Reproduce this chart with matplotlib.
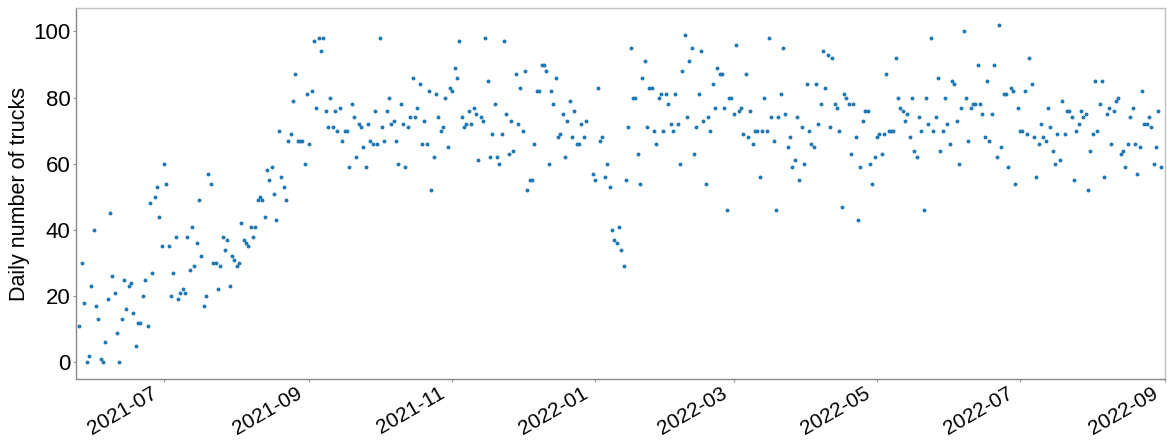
import matplotlib
matplotlib.use('Agg')
import numpy as np
import pandas as pd
import matplotlib.pyplot as plt
import matplotlib.dates as mdates
from matplotlib.transforms import ScaledTranslation

plt.rcParams['font.family'] = ['Liberation Sans', 'DejaVu Sans']

# Daily truck counts starting 2021-05-26 (None = no record that day)
start_date = '2021-05-26'
daily_trucks = [
    11, 30, 18, 0, 2, 23, 40, 17, 13, 1,
    0, 6, 19, 45, 26, 21, 9, 0, 13, 25,
    16, 23, 24, 15, 5, 12, 12, 20, 25, 11,
    48, 27, 50, 53, 44, 35, 60, 54, 35, 20,
    27, 38, 19, 21, 22, 21, 38, 28, 41, 29,
    36, 49, 32, 17, 20, 57, 54, 30, 30, 22,
    29, 38, 34, 37, 23,
    32, 31, 29, 30, 42, 37, 36, 35, 41, 38,
    41, 49, 50, 49, 44, 58, 55, 59, 51, 43,
    70, 56, 53, 49, 67, 69, 79, 87, 67, 67,
    67, 60, 81, 66, 82, 97, 77, 98, 94, 98,
    76, 71, 80, 71, 76, 70, 77, 67, 70, 70,
    59, 78, 74, 62, 72, 71, 65, 59, 72, 67,
    66, 76, 66, 98, 71, 67, 76, 80, 72, 73,
    67, 60, 78, 72, 59, 71, 74, 86, 74, 77,
    84,
    66, 73, 66, 82, 52, 62, 81, 74, 70, 71,
    80, 65, 83, 82, 89, 86, 97, 74, 71, 72,
    76, 72, 77, 75, 61, 74, 73, 98, 85, 62,
    69, 78, 62, 60, 69, 97, 75, 63, 73, 64,
    87, 72, 83, 70, 88, 52, 55, 55, 66, 82,
    82, 90, 90, 88, 60, 82, 78, 86, 68, 69,
    75, 62, 73, 79, 68, 76, 66, 66, 72, 68,
    73,
    None, None,
    57, 55, 83, 67, 68, 56, 60, 53, 40, 37,
    36, 41, 34, 29, 55, 71, 95, 80, 80, 63,
    54, 86, 91, 71, 83, 83, 70, 66, 80, 81,
    70, 81, 78, 72, 70, 81, 72, 60, 88, 99,
    74, 91, 95, 63, 71, 81, 94, 73, 54, 74,
    70, 84, 77, 89, 87, 87, 77, 46, 80, 80,
    75, 96, 76, 77, 69, 87, 68, 76, 66, 70,
    70, 56, 70, 80, 70, 98, 74, 67, 46, 74,
    81, 95, 75, 65, 68, 59, 61, 74,
    55, 71, 60,
    84, 70, 66, 65, 84, 72, 78, 94, 83, 93,
    71, 92, 78, 77, 70, 47, 81, 80, 78, 63,
    78, 68, 43, 59, 73, 76, 76, 60, 54, 62,
    68, 69, 63, 69, 87, 70, 70, 70, 92, 80,
    77, 76, 73, 75, 68, 80, 64, 62, 74, 70,
    46, 80, 72, 98, 70, 74, 86, 64, 70, 80,
    72, 66, 85, 84, 73, 60, 77, 100, 80, 67,
    77, 78, 78,
    90, 78, 75, 68, 85, 67, 75,
    90, 62, 102, 65, 81, 81, 59, 83, 82, 54,
    77, 70, 70, 82, 69, 92, 84, 68, 56, 66,
    72, 68, 67, 77, 71, 64, 60, 69, 61, 79,
    69, 76, 76, 74, 55, 70, 72, 76, 74, 75,
    52, 64, 69, 85, 70, 78, 85, 56, 75, 77,
    66, 76, 79, 80, 63, 64, 59, 66, 74, 77,
    66, 57, 65, 82, 72, 72, 74, 71, 60, 65,
    76, 59,
]
x_range = ('2021-05-24 12:00', '2022-09-01')

df = pd.DataFrame({
    'Date': pd.date_range(start_date, periods=len(daily_trucks), freq='D'),
    'Trucks': pd.array(daily_trucks, dtype='Float64'),
}).dropna()

fig = plt.figure(figsize=(11.67, 4.45), dpi=100)
ax = fig.add_axes([0.0651, 0.148, 0.9335, 0.834])
ax.scatter(df['Date'], df['Trucks'].astype(float), s=8, color='#1f77b4', linewidths=0)

ax.set_xlim(pd.Timestamp(x_range[0]), pd.Timestamp(x_range[1]))
ax.xaxis.set_major_locator(mdates.MonthLocator(bymonth=[1, 3, 5, 7, 9, 11]))
ax.xaxis.set_major_formatter(mdates.DateFormatter('%Y-%m'))
ax.set_yticks([0, 20, 40, 60, 80, 100])

ax.tick_params(axis='both', length=2.5, color='#999999')
ax.tick_params(axis='y', labelsize=16, pad=1.5)
ax.tick_params(axis='x', labelsize=15, pad=0.5)

# rotated date labels, nudged slightly left
shift = ScaledTranslation(-4 / 100, 0, fig.dpi_scale_trans)
for lbl in ax.get_xticklabels():
    lbl.set_rotation(30)
    lbl.set_ha('right')
    lbl.set_transform(lbl.get_transform() + shift)

ax.set_ylabel('Daily number of trucks', fontsize=15.5, labelpad=2)
for name, sp in ax.spines.items():
    sp.set_color('#888888' if name in ('left', 'bottom') else '#c0c0c0')
    sp.set_linewidth(1.0)

fig.savefig('out.png', dpi=100)
